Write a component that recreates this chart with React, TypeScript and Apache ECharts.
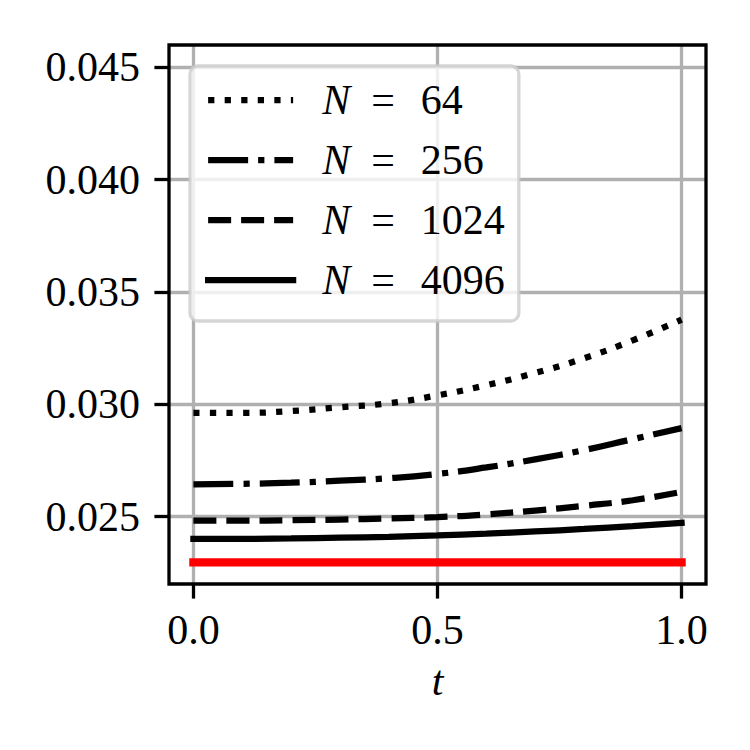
import React, { useEffect, useRef } from 'react';
import * as echarts from 'echarts';

const T = [0, 0.1, 0.2, 0.3, 0.4, 0.5, 0.6, 0.7, 0.8, 0.9, 1.0];
const N64 = [0.02962, 0.02962, 0.0297, 0.02987, 0.03005, 0.0304, 0.03085, 0.0314, 0.03205, 0.03285, 0.03377];
const N256 = [0.02644, 0.02646, 0.02651, 0.0266, 0.02671, 0.0269, 0.02719, 0.02755, 0.02796, 0.02845, 0.02894];
const N1024 = [0.02482, 0.02482, 0.02484, 0.02487, 0.02492, 0.02498, 0.0251, 0.02527, 0.02548, 0.02573, 0.0261];
const N4096 = [0.02401, 0.02401, 0.02403, 0.02406, 0.0241, 0.02416, 0.02424, 0.02434, 0.02445, 0.02458, 0.02472];
const REF_T = [0, 1];
const REF_VALUES = [0.02296, 0.02296];

const SERIES_NAMES = ['N = 64', 'N = 256', 'N = 1024', 'N = 4096'];
const X_TICKS = [0, 0.5, 1.0];
const Y_TICKS = [0.025, 0.03, 0.035, 0.04, 0.045];

const FONT = 'Liberation Serif';

export default function App() {
  const ref = useRef<HTMLDivElement>(null);
  useEffect(() => {
    const chart = echarts.init(ref.current!, null, { renderer: 'svg' });
    const lw = 6.25;
    const G = { left: 169, right: 44, top: 45, bottom: 166 };
    const mk = (name: string, vals: number[], type: any, cap: string) => ({
      name,
      type: 'line',
      data: T.map((t, i) => [t, vals[i]]),
      smooth: true,
      symbol: 'none',
      lineStyle: { color: '#000', width: lw, type, cap },
      itemStyle: { color: '#000' },
      z: 3,
    });
    chart.setOption({
      animation: false,
      backgroundColor: '#fff',
      grid: { ...G, show: false },
      graphic: [
        {
          type: 'rect',
          z: 100,
          silent: true,
          shape: { x: G.left, y: G.top, width: 750 - G.left - G.right, height: 750 - G.top - G.bottom },
          style: { fill: 'none', stroke: '#000', lineWidth: 3.3 },
        },
      ],
      legend: {
        data: SERIES_NAMES,
        orient: 'vertical',
        left: 190,
        top: 66,
        itemWidth: 85,
        itemHeight: 20,
        itemGap: 12,
        padding: [10, 14, 17, 15],
        backgroundColor: 'rgba(255,255,255,0.8)',
        borderColor: 'rgba(204,204,204,0.8)',
        borderWidth: 3.3,
        borderRadius: 8,
        lineStyle: { width: lw },
        itemStyle: { opacity: 0, color: 'transparent', borderWidth: 0 },
        formatter: (name: string) => {
          const num = name.split('= ')[1];
          return `{n|N}{e|=}{d|${num}}`;
        },
        textStyle: {
          fontFamily: FONT,
          fontSize: 42,
          lineHeight: 48,
          color: '#000',
          rich: {
            n: { fontFamily: FONT, fontSize: 42, fontStyle: 'italic', color: '#000', padding: [0, 0, 0, 24] },
            e: { fontFamily: FONT, fontSize: 42, color: '#000', padding: [0, 26, 0, 21] },
            d: { fontFamily: FONT, fontSize: 42, color: '#000' },
          },
        },
      },
      xAxis: {
        type: 'value',
        min: -0.05,
        max: 1.05,
        splitNumber: 2,
        name: 't',
        nameLocation: 'middle',
        nameGap: 76,
        nameTextStyle: { fontFamily: FONT, fontSize: 42, fontStyle: 'italic', color: '#000' },
        axisLine: { show: false, onZero: false },
        axisTick: {
          show: true,
          customValues: X_TICKS,
          length: 14.6,
          lineStyle: { color: '#000', width: 3.3 },
        },
        axisLabel: {
          customValues: X_TICKS,
          formatter: (v: number) => v.toFixed(1),
          fontFamily: FONT,
          fontSize: 42,
          color: '#000',
          margin: 25,
        },
        splitLine: {
          show: true,
          lineStyle: { color: '#b0b0b0', width: 3.3 },
        },
      },
      yAxis: {
        type: 'value',
        min: 0.022,
        max: 0.046,
        splitNumber: 5,
        axisLine: { show: false, onZero: false },
        axisTick: {
          show: true,
          customValues: Y_TICKS,
          length: 14.6,
          lineStyle: { color: '#000', width: 3.3 },
        },
        axisLabel: {
          customValues: Y_TICKS,
          formatter: (v: number) => v.toFixed(3),
          fontFamily: FONT,
          fontSize: 42,
          color: '#000',
          margin: 29,
        },
        splitLine: {
          show: true,
          lineStyle: { color: '#b0b0b0', width: 3.3 },
        },
      },
      series: [
        mk(SERIES_NAMES[0], N64, [6.25, 10.3], 'butt'),
        mk(SERIES_NAMES[1], N256, [40, 10, 6.25, 10], 'butt'),
        mk(SERIES_NAMES[2], N1024, [23, 10], 'butt'),
        mk(SERIES_NAMES[3], N4096, 'solid', 'square'),
        {
          name: 'reference',
          type: 'line',
          data: REF_T.map((t, i) => [t, REF_VALUES[i]]),
          symbol: 'none',
          lineStyle: { color: '#ff0000', width: 8.3, cap: 'square' },
          itemStyle: { color: '#ff0000' },
          z: 4,
        },
      ],
    });
    return () => chart.dispose();
  }, []);
  return <div ref={ref} style={{ position: 'absolute', left: 0, top: 0, width: 750, height: 750 }} />;
}
